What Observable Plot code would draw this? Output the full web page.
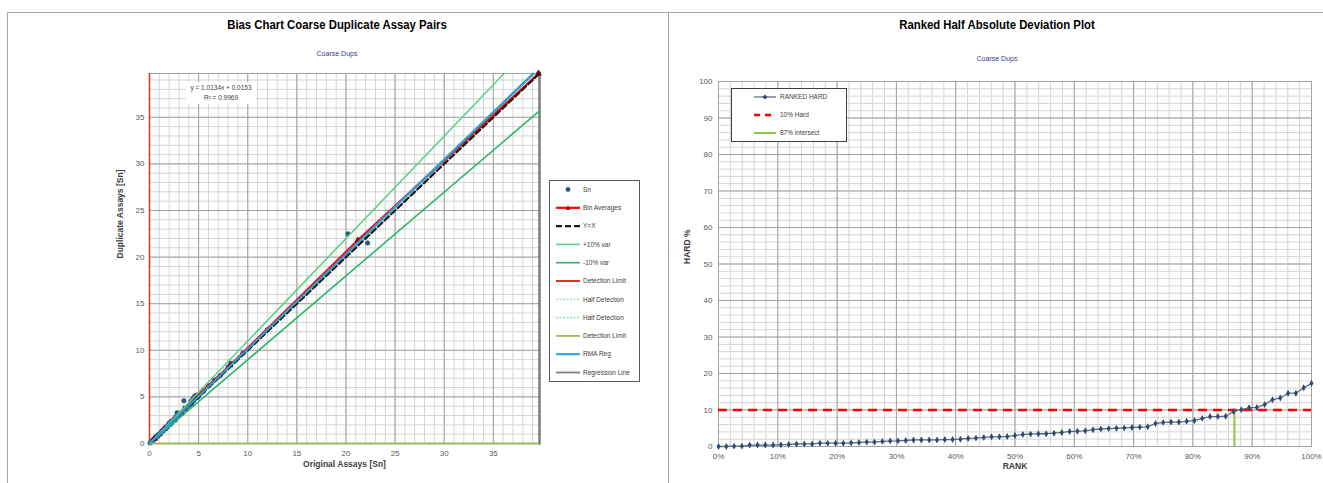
<!DOCTYPE html>
<html><head><meta charset="utf-8">
<script src="https://cdn.jsdelivr.net/npm/d3@7"></script>
<script src="https://cdn.jsdelivr.net/npm/@observablehq/plot@0.6"></script>
<style>
body{margin:0;background:#fff;width:1323px;height:483px;overflow:hidden;position:relative;font-family:"Liberation Sans",Arial,sans-serif;}
.abs{position:absolute;}
.title{font-weight:bold;font-size:13.5px;color:#000;text-align:center;transform:scaleX(0.84);transform-origin:center;}
.sub{font-size:7px;color:#3a3a8a;text-align:center;}
.legend{background:#fff;border:1px solid #595959;box-sizing:border-box;}
.legend svg{display:block;}
</style>
</head><body>
<div class="abs" style="left:7px;top:12px;width:660px;height:480px;border:1px solid #a6a6a6;border-bottom:none;"></div>
<div class="abs" style="left:668px;top:12px;width:655px;height:480px;border-top:1px solid #a6a6a6;"></div>
<div id="leftChart" class="abs" style="left:0;top:0;"></div>
<div id="rightChart" class="abs" style="left:668px;top:0;"></div>
<div class="abs title" style="left:137px;width:400px;top:17px;">Bias Chart Coarse Duplicate Assay Pairs</div>
<div class="abs sub" style="left:237px;width:200px;top:50px;">Coarse Dups</div>
<div class="abs title" style="left:797px;width:400px;top:17px;">Ranked Half Absolute Deviation Plot</div>
<div class="abs sub" style="left:897px;width:200px;top:55px;">Coarse Dups</div>
<div id="eqBox" class="abs" style="left:186px;top:82px;width:70px;height:21px;background:#fff;font-size:6.5px;color:#404040;text-align:center;line-height:9.5px;padding-top:1px;"></div>
<div id="leftLegend" class="abs legend" style="left:549px;top:180px;width:91px;height:202px;"></div>
<div id="rightLegend" class="abs legend" style="left:731px;top:88px;width:116px;height:54px;border-color:#404040;"></div>
<script>
// ---------- Left chart data ----------
const originalSn = [0.05,0.1,0.15,0.2,0.25,0.3,0.35,0.4,0.45,0.5,0.6,0.65,0.7,0.8,0.85,0.9,1.0,1.1,1.2,1.3,1.4,1.5,1.6,1.7,1.8,1.9,2.0,2.1,2.2,2.3,2.4,2.5,2.6,2.7,2.8,3.0,3.2,3.3,3.5,3.6,3.8,4.0,4.2,4.3,4.4,4.5,4.6,4.7,4.8,4.9,5.0,5.2,5.5,6.0,6.6,7.2,8.0,8.3,9.5,12.0,20.2,22.2,39.6];
const duplicateSn = [0.05,0.12,0.14,0.25,0.22,0.3,0.4,0.38,0.5,0.47,0.65,0.6,0.75,0.85,0.8,0.95,1.05,1.0,1.25,1.4,1.35,1.6,1.55,1.8,1.75,2.0,2.2,2.0,2.4,2.25,2.5,2.6,2.5,2.9,3.3,3.1,3.3,3.2,4.6,3.7,3.9,4.1,4.5,4.2,4.8,4.6,5.1,4.9,5.2,5.0,5.1,5.4,5.6,6.2,6.8,7.3,8.2,8.6,9.7,12.2,22.5,21.5,39.7];
const binAvgX = [0.5,1.5,2.5,3.5,4.7,8.2,21.2,39.6];
const binAvgY = [0.52,1.55,2.6,3.7,4.95,8.4,21.8,39.7];
const yEqualsX = [[0,0],[39.7,39.7]];
const plus10Var = [[0,0],[36.1,39.7]];
const minus10Var = [[0,0],[39.7,35.7]];
const rmaReg = [[0,0],[39.05,39.7]];
const regressionLine = [[0,0.0153],[39.16,39.7]];
const axisMax = 39.7;
const leftTicks = [0,5,10,15,20,25,30,35];
const leftMinorGrid = d3.range(0,40,1);
const eqLines = ["y = 1.0134x + 0.0153","R\u00b2 = 0.9969"];
const leftLegendNames = ["Sn","Bin Averages","Y=X","+10% var","-10% var","Detection Limit","Half Detection","Half Detection","Detection Limit","RMA Reg","Regression Line"];

// ---------- Right chart data ----------
const rankedHard = [0,0,0.1,0.1,0.4,0.4,0.4,0.4,0.5,0.55,0.7,0.7,0.7,0.9,0.9,0.9,0.9,1.0,1.1,1.2,1.2,1.4,1.5,1.55,1.65,1.8,1.8,1.8,1.8,1.9,1.9,2.0,2.2,2.3,2.5,2.65,2.65,2.75,3.0,3.3,3.4,3.5,3.5,3.65,3.85,4.1,4.2,4.3,4.6,4.8,4.9,5.0,5.1,5.2,5.3,5.4,6.3,6.6,6.7,6.7,6.9,7.1,7.7,8.2,8.2,8.3,9.6,10.1,10.6,10.7,11.5,12.8,13.3,14.6,14.6,16.1,17.3];
const hardLimit = 10;
const intersectRank = 0.87;
const rankTicks = [0,0.1,0.2,0.3,0.4,0.5,0.6,0.7,0.8,0.9,1];
const hardTicks = [0,10,20,30,40,50,60,70,80,90,100];
const rankMinorGrid = d3.range(0,1.0001,0.02);
const hardMinorGrid = d3.range(0,101,2);
const rightLegendNames = ["RANKED HARD","10% Hard","87% intersect"];

const FONT = '"Liberation Sans",Arial,sans-serif';

// ---------- Left chart ----------
const pairs = originalSn.map((x,i)=>({x, y: duplicateSn[i]}));
const bins = binAvgX.map((x,i)=>({x, y: binAvgY[i]}));
const C = {dot:"#2f5a80", bin:"#ff0000", yx:"#1a1a1a", plus:"#5ed08a", minus:"#2fb56a", detRed:"#e0302a", half:"#9fe0c8", detGreen:"#9bbb59", rma:"#1fa3dc", reg:"#808080"};

const left = Plot.plot({
  width: 668, height: 483,
  marginTop: 73, marginBottom: 40, marginLeft: 149, marginRight: 129,
  style: {fontFamily: FONT, fontSize: "8px", background: "transparent", color:"#595959"},
  x: {domain: [0, axisMax]},
  y: {domain: [0, axisMax]},
  marks: [
    Plot.gridX(leftMinorGrid, {stroke: "#d4d4d4", strokeOpacity: 1}),
    Plot.gridY(leftMinorGrid, {stroke: "#d4d4d4", strokeOpacity: 1}),
    Plot.gridX(leftTicks, {stroke: "#a3a3a3", strokeOpacity: 1}),
    Plot.gridY(leftTicks, {stroke: "#a3a3a3", strokeOpacity: 1}),
    Plot.frame({stroke: "#a3a3a3"}),
    Plot.frame({anchor: "right", stroke: "#7a7a7a", strokeWidth: 2.5}),
    Plot.axisX({ticks: leftTicks, tickSize: 0, tickPadding: 7, label: null, color: "#595959"}),
    Plot.axisY({ticks: leftTicks, tickSize: 0, tickPadding: 5, label: null, color: "#595959"}),
    Plot.dot(pairs, {x: "x", y: "y", r: 2.5, fill: C.dot, stroke: "none"}),
    Plot.line(bins, {x: "x", y: "y", stroke: C.bin, strokeWidth: 2.2}),
    Plot.dot(bins, {x: "x", y: "y", symbol: "triangle", r: 2.6, fill: "#8b0000"}),
    Plot.line(yEqualsX, {stroke: C.yx, strokeWidth: 2.2, strokeDasharray: "6,3"}),
    Plot.line(plus10Var, {stroke: C.plus, strokeWidth: 1.6}),
    Plot.line(minus10Var, {stroke: C.minus, strokeWidth: 1.6}),
    Plot.ruleX([0], {stroke: C.detRed, strokeWidth: 1.5}),
    Plot.ruleY([0], {stroke: C.detGreen, strokeWidth: 2}),
    Plot.line(regressionLine, {stroke: C.reg, strokeWidth: 1.5}),
    Plot.line(rmaReg, {stroke: C.rma, strokeWidth: 2}),
    Plot.text(["Original Assays [Sn]"], {frameAnchor: "bottom", dy: 23, fontWeight: "bold", fontSize: 8.5, fill: "#404040"}),
    Plot.text(["Duplicate Assays [Sn]"], {frameAnchor: "left", dx: -29, rotate: -90, fontWeight: "bold", fontSize: 8.5, fill: "#404040"})
  ]
});
document.getElementById("leftChart").append(left);

// ---------- Right chart ----------
const hardData = rankedHard.map((v,i)=>({rank: i/(rankedHard.length-1), hard: v}));
const right = Plot.plot({
  width: 655, height: 483,
  marginTop: 81, marginBottom: 37, marginLeft: 50, marginRight: 12,
  style: {fontFamily: FONT, fontSize: "8px", background: "transparent", color:"#595959"},
  x: {domain: [0, 1]},
  y: {domain: [0, 100]},
  marks: [
    Plot.gridX(rankMinorGrid, {stroke: "#d4d4d4", strokeOpacity: 1}),
    Plot.gridY(hardMinorGrid, {stroke: "#d4d4d4", strokeOpacity: 1}),
    Plot.gridX(rankTicks, {stroke: "#a3a3a3", strokeOpacity: 1}),
    Plot.gridY(hardTicks, {stroke: "#a3a3a3", strokeOpacity: 1}),
    Plot.frame({stroke: "#a3a3a3"}),
    Plot.axisX({ticks: rankTicks, tickFormat: d3.format(".0%"), tickSize: 0, tickPadding: 7, label: null, color: "#595959"}),
    Plot.axisY({ticks: hardTicks, tickSize: 0, tickPadding: 6, label: null, color: "#595959"}),
    Plot.ruleY([hardLimit], {stroke: "#ff0000", strokeWidth: 2.5, strokeDasharray: "9,6"}),
    Plot.ruleX([intersectRank], {y1: 0, y2: hardLimit, stroke: "#8cc63f", strokeWidth: 2}),
    Plot.line(hardData, {x: "rank", y: "hard", stroke: "#5d6b80", strokeWidth: 1.3}),
    Plot.dot(hardData, {x: "rank", y: "hard", symbol: "diamond", r: 2.1, fill: "#2f4a72", stroke: "none"}),
    Plot.text(["RANK"], {frameAnchor: "bottom", dy: 22, fontWeight: "bold", fontSize: 8.5, fill: "#404040"}),
    Plot.text(["HARD %"], {frameAnchor: "left", dx: -31, rotate: -90, fontWeight: "bold", fontSize: 8.5, fill: "#404040"})
  ]
});
document.getElementById("rightChart").append(right);

// ---------- Equation box ----------
document.getElementById("eqBox").innerHTML = eqLines.join("<br>");

// ---------- Legends ----------
function legendSvg(w, h, items, spacing, top, x0, x1, tx, fs) {
  let s = `<svg width="${w}" height="${h}" xmlns="http://www.w3.org/2000/svg" style="font-family:${FONT.replace(/"/g,"'")};font-size:${fs}px">`;
  items.forEach((it, i) => {
    const y = top + i*spacing;
    const xm = (x0+x1)/2;
    if (it.line) s += `<line x1="${x0}" x2="${x1}" y1="${y}" y2="${y}" stroke="${it.line}" stroke-width="${it.w||1.6}" ${it.dash?`stroke-dasharray="${it.dash}"`:""}/>`;
    if (it.marker === "circle") s += `<circle cx="${xm}" cy="${y}" r="2.4" fill="${it.mc}"/>`;
    if (it.marker === "triangle") s += `<path d="M${xm-2.6},${y+2} L${xm+2.6},${y+2} L${xm},${y-2.6}Z" fill="${it.mc}"/>`;
    if (it.marker === "diamond") s += `<path d="M${xm},${y-2.4} L${xm+2.4},${y} L${xm},${y+2.4} L${xm-2.4},${y}Z" fill="${it.mc}"/>`;
    s += `<text x="${tx}" y="${y}" dy="0.35em" fill="#404040">${it.name}</text>`;
  });
  return s + "</svg>";
}
const leftStyles = [
  {marker:"circle", mc:C.dot},
  {line:C.bin, w:2.2, marker:"triangle", mc:"#8b0000"},
  {line:C.yx, w:2.2, dash:"6,3"},
  {line:C.plus},
  {line:C.minus},
  {line:C.detRed, w:2},
  {line:C.half, dash:"2,1.5"},
  {line:C.half, dash:"2,1.5"},
  {line:C.detGreen, w:1.8},
  {line:C.rma, w:2},
  {line:C.reg, w:1.8}
];
document.getElementById("leftLegend").innerHTML = legendSvg(89, 200,
  leftLegendNames.map((n,i)=>({name:n, ...leftStyles[i]})), 18.3, 8.5, 6, 30, 33, 6.5);
const rightStyles = [
  {line:"#5d6b80", w:1.3, marker:"diamond", mc:"#2f4a72"},
  {line:"#ff0000", w:2.5, dash:"6,5"},
  {line:"#8cc63f", w:2}
];
document.getElementById("rightLegend").innerHTML = legendSvg(114, 52,
  rightLegendNames.map((n,i)=>({name:n, ...rightStyles[i]})), 18, 8, 22, 44, 48, 6.5);
</script>
</body></html>
